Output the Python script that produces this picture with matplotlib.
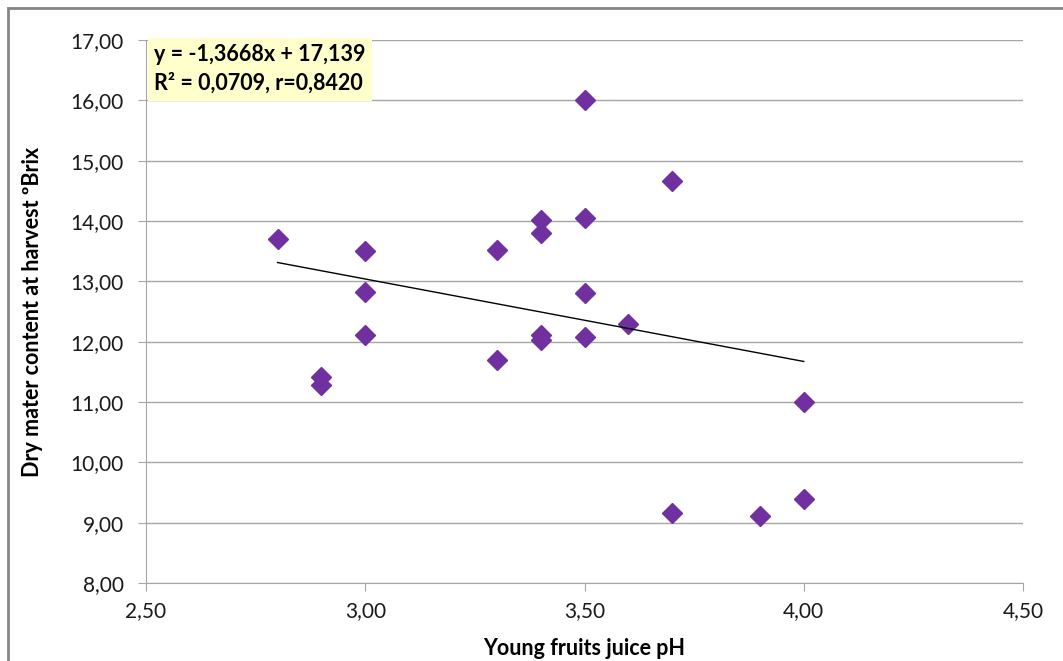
import matplotlib.pyplot as plt
import matplotlib.ticker as mticker
from matplotlib.patches import Rectangle
import numpy as np

# young fruit juice pH vs dry matter at harvest (ºBrix)
ph = [2.80, 2.90, 2.90, 3.00, 3.00, 3.00, 3.30, 3.30, 3.40, 3.40, 3.40, 3.40,
      3.50, 3.50, 3.50, 3.50, 3.60, 3.70, 3.70, 3.90, 4.00, 4.00]
brix = [13.70, 11.41, 11.28, 13.50, 12.82, 12.11, 13.52, 11.70, 14.01, 13.80,
        12.11, 12.02, 16.01, 14.05, 12.80, 12.07, 12.30, 14.67, 9.16, 9.11,
        11.00, 9.39]

# trendline as printed on the chart
slope = -1.3668
intercept = 17.139
eq_text = 'y = -1,3668x + 17,139\nR² = 0,0709, r=0,8420'

plt.rcParams['font.family'] = ['Lato', 'DejaVu Sans']

W, H = 1063, 661
fig = plt.figure(figsize=(W / 100, H / 100), dpi=100)
ax = fig.add_axes([146 / W, 1 - 583 / H, (1023 - 146) / W, (583 - 40) / H])

# outer chart-area border (only top/left visible in the crop)
fig.patches.append(Rectangle((8 / W, -0.1), 1.2, 1 - 8 / H + 0.1,
                             transform=fig.transFigure, fill=False,
                             edgecolor='#868686', linewidth=2))

ax.plot(ph, brix, linestyle='none', marker='D', markersize=10.5,
        color='#7030A0', markeredgecolor='#7030A0', zorder=3)

xt = np.array([min(ph), max(ph)])
ax.plot(xt, slope * xt + intercept, color='black', linewidth=1, zorder=4)

ax.set_xlim(2.5, 4.5)
ax.set_ylim(8, 17)
ax.set_xticks(np.arange(2.5, 4.51, 0.5))
ax.set_yticks(np.arange(8, 17.01, 1))
fmt = mticker.FuncFormatter(lambda v, p: '{:.2f}'.format(v).replace('.', ','))
ax.xaxis.set_major_formatter(fmt)
ax.yaxis.set_major_formatter(fmt)

ax.grid(axis='y', color='#A6A6A6', linewidth=1)
ax.set_axisbelow(True)
for s in ['top', 'right']:
    ax.spines[s].set_visible(False)
for s in ['left', 'bottom']:
    ax.spines[s].set_color('#A6A6A6')
ax.tick_params(axis='both', color='#A6A6A6', length=6, labelsize=15,
               labelcolor='#1a1a1a')
ax.tick_params(axis='x', pad=7)
ax.tick_params(axis='y', pad=10)

ax.set_xlabel('Young fruits juice pH', fontsize=15.5, fontweight='bold',
              labelpad=12)
ax.set_ylabel('Dry mater content at harvest ºBrix', fontsize=15.5,
              fontweight='bold', labelpad=20)

ax.text(154 / W, 1 - 44 / H, eq_text, transform=fig.transFigure,
        fontsize=15.5, fontweight='bold', va='top', ha='left',
        linespacing=1.45,
        bbox=dict(boxstyle='square,pad=0.3', facecolor='#FFFFCC',
                  edgecolor='none'))

plt.savefig('out.png', dpi=100)
